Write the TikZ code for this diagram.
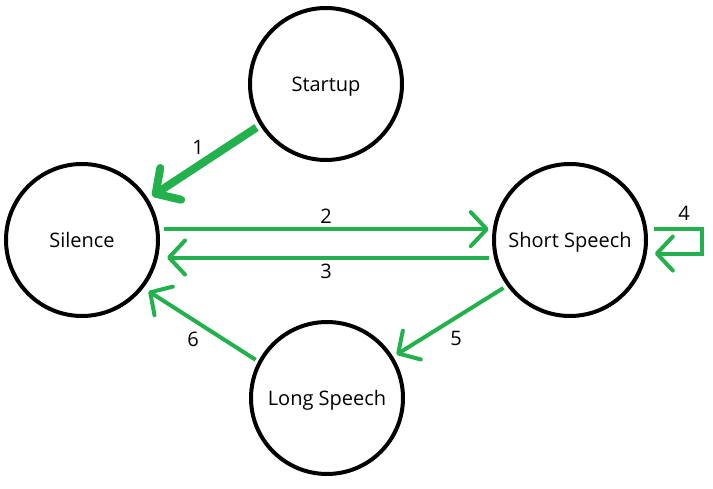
\documentclass[tikz,border=0pt]{standalone}
\usepackage{tikz}
\usetikzlibrary{arrows.meta}
\usepackage{fontspec}
\setmainfont{Open Sans}
\definecolor{paintgreen}{RGB}{34,177,76}

\begin{document}
\begin{tikzpicture}[x=1pt, y=-1pt]
	\tikzstyle{statenode}=[
	draw,
	circle,
	line width=4pt,
	minimum size=152pt,
	text height=15pt,
	text depth=0pt,
	font=\fontsize{20pt}{24pt}\selectfont
	]
	\tikzstyle{numnode}=[
	font=\fontsize{20pt}{24pt}\selectfont
	]
	\tikzstyle{trans}=[
	draw=paintgreen,
	line width=4pt,
	-{Straight Barb[length=16pt,width=34pt,line cap=round,round]}
	]
	\tikzstyle{bigtrans}=[
	draw=paintgreen,
	line width=8pt,
	-{Straight Barb[length=18pt,width=38pt,line cap=round,round]}
	]
	\useasboundingbox (0,0) rectangle (713,489);
	\node[statenode] (startup) at (326,84) {Startup};
	\node[statenode] (silence) at (82,240) {Silence};
	\node[statenode] (short) at (570,240) {Short Speech};
	\node[statenode] (long) at (327,398) {Long Speech};
	\path (startup.212) edge [bigtrans, shorten <=4pt, shorten >=5pt] (silence.32);
	\path (silence.8) edge [trans, shorten <=5pt, shorten >=4pt] (short.172);
	\path (short.193) edge [trans, shorten <=5pt, shorten >=9pt] (silence.-13);
	\draw [trans, shorten <=7pt, shorten >=8pt] (short.8) -- ++(55,0) |- (short.-10);
	\path (short.216) edge [trans, shorten <=4pt, shorten >=4pt] (long.32);
	\path (long.152) edge [trans, shorten <=3pt, shorten >=6pt] (silence.-38);
	\node[numnode] (n1) at (198,147) {1};
	\node[numnode] (n2) at (326,216) {2};
	\node[numnode] (n3) at (326,271) {3};
	\node[numnode] (n4) at (684,213) {4};
	\node[numnode] (n5) at (456,338) {5};
	\node[numnode] (n6) at (193,339) {6};
\end{tikzpicture}
\end{document}
